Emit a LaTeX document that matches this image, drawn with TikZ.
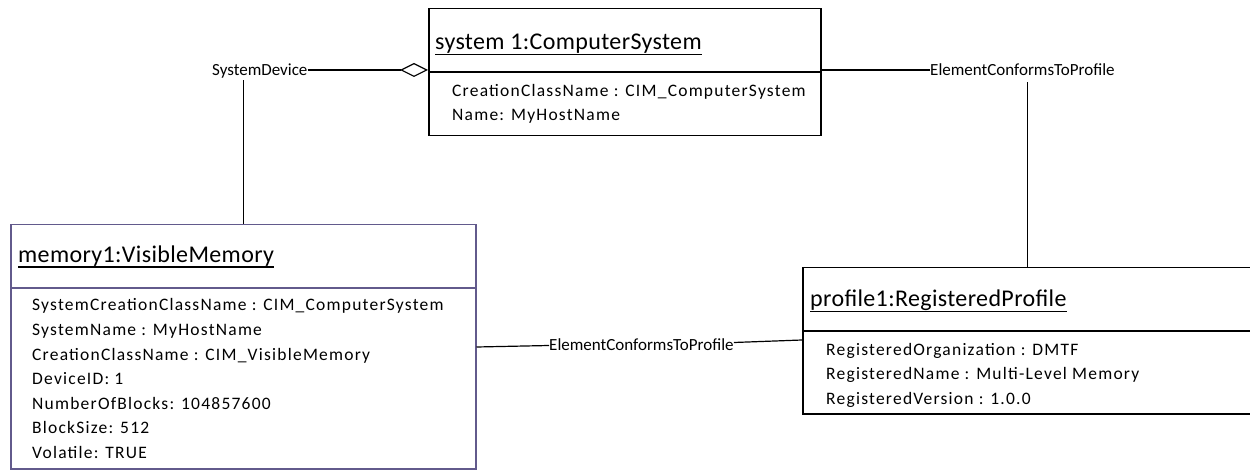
\documentclass[tikz,border=0pt]{standalone}
\usepackage{fontspec}
\setmainfont{Carlito}
\newfontfamily\titlefont[LetterSpace=1.5]{Carlito}
\newfontfamily\attrfont[LetterSpace=7]{Carlito}
\newfontfamily\labelfont{Carlito}
\usetikzlibrary{arrows.meta}
\definecolor{memline}{RGB}{98,90,140}

\tikzset{
  umlbox/.style={draw, line width=1.5pt, anchor=north west, inner sep=0pt},
  divider/.style={line width=1.5pt},
  titletext/.style={anchor=base west, inner sep=0pt, font=\titlefont\fontsize{24}{28}\selectfont},
  attrtext/.style={anchor=base west, inner sep=0pt, font=\attrfont\fontsize{17.5}{21}\selectfont},
  assoclabel/.style={anchor=base west, inner sep=0pt, font=\labelfont\fontsize{17}{20}\selectfont},
  conn/.style={line width=1.2pt},
  uline/.style={line width=1.1pt}
}

\begin{document}
\begin{tikzpicture}[x=1pt,y=-1pt]
\useasboundingbox (0,0) rectangle (1250,470);
\clip (0,0) rectangle (1250,470);

% ---- system1 : ComputerSystem ----
\node[umlbox, minimum width=392pt, minimum height=127pt] (sys) at (428,8) {};
\draw[divider] (sys.west |- 0,72) -- (sys.east |- 0,72);
\node[titletext] (systitle) at (435,50) {system 1:ComputerSystem};
\draw[uline] ([yshift=-4.5pt]systitle.base west) -- ([yshift=-4.5pt]systitle.base east);
\node[attrtext] (sysa1) at (452,97) {CreationClassName : CIM\_ComputerSystem};
\node[attrtext] (sysa2) at (452,121) {Name: MyHostName};

% ---- memory1 : VisibleMemory ----
\node[umlbox, draw=memline, minimum width=465pt, minimum height=244pt] (mem) at (10,224) {};
\draw[divider, memline] (mem.west |- 0,288) -- (mem.east |- 0,288);
\node[titletext] (memtitle) at (18,262.5) {memory1:VisibleMemory};
\draw[uline] ([yshift=-4.5pt]memtitle.base west) -- ([yshift=-4.5pt]memtitle.base east);
\node[attrtext] (mema1) at (32,311) {SystemCreationClassName : CIM\_ComputerSystem};
\node[attrtext] (mema2) at (32,335.5) {SystemName : MyHostName};
\node[attrtext] (mema3) at (32,360) {CreationClassName : CIM\_VisibleMemory};
\node[attrtext] (mema4) at (32,384.5) {DeviceID: 1};
\node[attrtext] (mema5) at (32,409) {NumberOfBlocks: 104857600};
\node[attrtext] (mema6) at (32,433.5) {BlockSize: 512};
\node[attrtext] (mema7) at (32,458) {Volatile: TRUE};

% ---- profile1 : RegisteredProfile ----
\node[umlbox, minimum width=450pt, minimum height=146pt] (prof) at (802,267) {};
\draw[divider] (prof.west |- 0,331) -- (prof.east |- 0,331);
\node[titletext] (proftitle) at (810,307) {profile1:RegisteredProfile};
\draw[uline] ([yshift=-4.5pt]proftitle.base west) -- ([yshift=-4.5pt]proftitle.base east);
\node[attrtext] (profa1) at (826,355) {RegisteredOrganization : DMTF};
\node[attrtext] (profa2) at (826,379.5) {RegisteredName : Multi-Level Memory};
\node[attrtext] (profa3) at (826,404) {RegisteredVersion : 1.0.0};

% ---- SystemDevice (aggregation) ----
\node[assoclabel] (sdev) at (212,76) {SystemDevice};
\draw[conn, -{Diamond[open, length=28pt, width=14pt, line width=1.2pt]}]
  (sdev.east |- 0,70) -- (sys.west |- 0,70);
\draw[conn] (mem.north) -- (mem.north |- 0,80);

% ---- ElementConformsToProfile: system to profile ----
\node[assoclabel] (ectp1) at (930,76) {ElementConformsToProfile};
\draw[conn] (sys.east |- 0,70) -- (ectp1.west |- 0,70);
\draw[conn] (prof.north) -- (prof.north |- 0,82);

% ---- ElementConformsToProfile: memory to profile ----
\node[assoclabel] (ectp2) at (549,350) {ElementConformsToProfile};
\draw[conn] (mem.east |- 0,347) -- (ectp2.west |- 0,345.5);
\draw[conn] (ectp2.east |- 0,342.5) -- (prof.west |- 0,340);
\end{tikzpicture}
\end{document}
